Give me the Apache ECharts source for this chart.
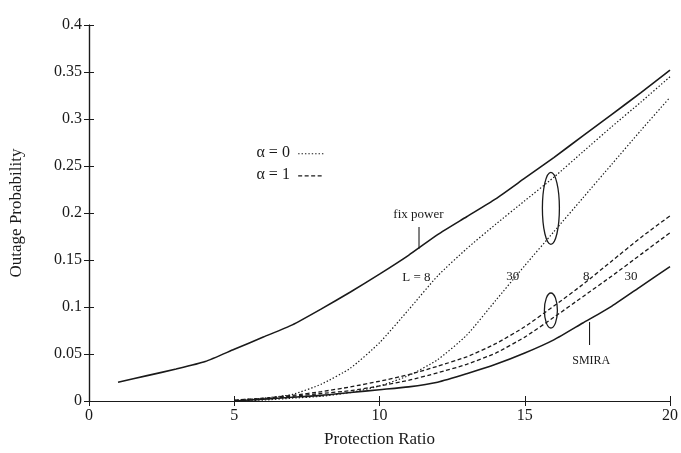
<!DOCTYPE html>
<html>
<head>
<meta charset="UTF-8">
<script src="https://cdn.jsdelivr.net/npm/echarts@6/dist/echarts.min.js"></script>
<style>
  html, body { margin: 0; padding: 0; background: #fff; }
  #main { width: 681px; height: 453px; }
</style>
</head>
<body>
<div id="main"></div>
<script>
// protection ratio (x)
var ratio = [1, 2, 3, 4, 5, 6, 7, 8, 9, 10, 11, 12, 13, 14, 15, 16, 17, 18, 19, 20];
var ratioLow = [5, 6, 7, 8, 9, 10, 11, 12, 13, 14, 15, 16, 17, 18, 19, 20];

// outage probability
var fixPower  = [0.020, 0.027, 0.034, 0.042, 0.055, 0.068, 0.081, 0.098, 0.116, 0.135, 0.155, 0.177, 0.196, 0.215, 0.237, 0.259, 0.282, 0.305, 0.328, 0.352];
var a0L8      = [0.001, 0.003, 0.007, 0.018, 0.035, 0.062, 0.097, 0.133, 0.162, 0.188, 0.213, 0.238, 0.265, 0.292, 0.318, 0.345];
var a0L30     = [0.000, 0.001, 0.003, 0.005, 0.009, 0.016, 0.027, 0.044, 0.070, 0.107, 0.144, 0.180, 0.216, 0.252, 0.288, 0.323];
var a1L8      = [0.001, 0.003, 0.006, 0.010, 0.015, 0.021, 0.028, 0.037, 0.047, 0.061, 0.079, 0.101, 0.124, 0.149, 0.174, 0.197];
var a1L30     = [0.000, 0.002, 0.005, 0.008, 0.011, 0.016, 0.022, 0.030, 0.039, 0.051, 0.068, 0.089, 0.111, 0.133, 0.156, 0.179];
var smira     = [0.000, 0.002, 0.004, 0.006, 0.009, 0.012, 0.015, 0.020, 0.029, 0.039, 0.051, 0.065, 0.083, 0.101, 0.122, 0.143];

var yTicks = ['0', '0.05', '0.1', '0.15', '0.2', '0.25', '0.3', '0.35', '0.4'];

function pairs(xs, ys) {
  return ys.map(function (v, i) { return [xs[i], v]; });
}

var ink = '#1a1a1a';
var serif = 'Liberation Serif';
var dotted = [1.4, 2];
var dashed = [4, 2.5];

var myChart = echarts.init(document.getElementById('main'));

var tickStyle = { show: true, inside: true, length: 5, lineStyle: { color: ink, width: 1 } };
var lineAx = { show: true, lineStyle: { color: ink, width: 1.2 } };

function lineSeries(name, xs, ys, type, width) {
  return {
    name: name, type: 'line', data: pairs(xs, ys), showSymbol: false, smooth: 0.2,
    lineStyle: { color: ink, width: width, type: type }, silent: true, animation: false
  };
}

var option = {
  animation: false,
  grid: { left: 87, right: 10, top: 25, bottom: 52 },
  xAxis: [{
    type: 'value', min: 0, max: 20, interval: 5,
    axisLine: lineAx, axisTick: tickStyle, splitLine: { show: false },
    axisLabel: { color: ink, fontFamily: serif, fontSize: 16, margin: 7 },
    name: 'Protection Ratio', nameLocation: 'middle', nameGap: 30,
    nameTextStyle: { color: ink, fontFamily: serif, fontSize: 17 }
  }, {
    type: 'value', min: 0, max: 20, interval: 5, position: 'top',
    axisLine: lineAx, axisTick: tickStyle, axisLabel: { show: false }, splitLine: { show: false }
  }],
  yAxis: [{
    type: 'value', min: 0, max: 0.4, interval: 0.05,
    axisLine: lineAx, axisTick: tickStyle, splitLine: { show: false },
    axisLabel: {
      color: ink, fontFamily: serif, fontSize: 16, margin: 7,
      formatter: function (v) { return yTicks[Math.round(v / 0.05)]; }
    },
    name: 'Outage Probability', nameLocation: 'middle', nameGap: 64, nameRotate: 90,
    nameTextStyle: { color: ink, fontFamily: serif, fontSize: 17 }
  }, {
    type: 'value', min: 0, max: 0.4, interval: 0.05, position: 'right',
    axisLine: lineAx, axisTick: tickStyle, axisLabel: { show: false }, splitLine: { show: false }
  }],
  series: [
    lineSeries('fix power', ratio, fixPower, 'solid', 1.6),
    lineSeries('a0 L8', ratioLow, a0L8, dotted, 1.2),
    lineSeries('a0 L30', ratioLow, a0L30, dotted, 1.2),
    lineSeries('a1 L8', ratioLow, a1L8, dashed, 1.3),
    lineSeries('a1 L30', ratioLow, a1L30, dashed, 1.3),
    lineSeries('SMIRA', ratioLow, smira, 'solid', 1.6)
  ]
};
myChart.setOption(option);

// annotations placed in data coordinates
function px(x, y) { return myChart.convertToPixel({ gridIndex: 0 }, [x, y]); }
function label(x, y, s, size) {
  var p = px(x, y);
  return { type: 'text', x: p[0], y: p[1], style: { text: s, fill: ink, font: (size || 13) + 'px ' + serif, align: 'center', verticalAlign: 'middle' } };
}
function seg(x1, y1, x2, y2, dash) {
  var a = px(x1, y1), b = px(x2, y2);
  return { type: 'line', shape: { x1: a[0], y1: a[1], x2: b[0], y2: b[1] }, style: { stroke: ink, lineWidth: 1.1, lineDash: dash || null } };
}
function ring(x, y, rx, ry) {
  var c = px(x, y);
  return { type: 'ellipse', shape: { cx: c[0], cy: c[1], rx: rx, ry: ry }, style: { fill: null, stroke: ink, lineWidth: 1.3 } };
}

var graphics = [
  label(6.34, 0.264, 'α = 0', 16), seg(7.2, 0.263, 8.1, 0.263, dotted),
  label(6.34, 0.2405, 'α = 1', 16), seg(7.2, 0.2395, 8.05, 0.2395, dashed),
  label(11.34, 0.198, 'fix power'), seg(11.36, 0.185, 11.36, 0.162),
  label(11.27, 0.131, 'L = 8'), label(14.59, 0.132, '30'),
  label(17.12, 0.132, '8'), label(18.66, 0.132, '30'),
  label(17.29, 0.0426, 'SMIRA', 12), seg(17.23, 0.0596, 17.23, 0.084),
  ring(15.9, 0.205, 8.5, 36), ring(15.9, 0.0963, 6.5, 17.5)
];
myChart.setOption({ graphic: graphics });
</script>
</body>
</html>
